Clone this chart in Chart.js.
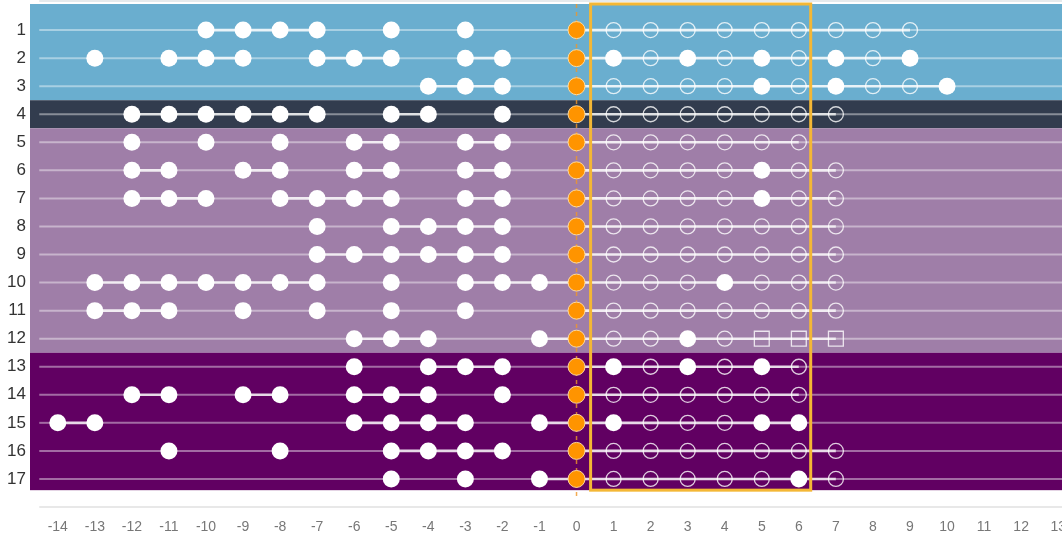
<!DOCTYPE html>
<html>
<head>
<meta charset="utf-8">
<script src="https://cdn.jsdelivr.net/npm/chart.js@4.4.1/dist/chart.umd.min.js"></script>
<style>
  html, body { margin: 0; padding: 0; background: #fff; overflow: hidden; }
  #wrap { width: 1086px; height: 540px; }
</style>
</head>
<body>
<div id="wrap"><canvas id="grafico"></canvas></div>
<script>
// rows (y axis) and x ticks
const rows = [1, 2, 3, 4, 5, 6, 7, 8, 9, 10, 11, 12, 13, 14, 15, 16, 17];
const xTicks = [-14, -13, -12, -11, -10, -9, -8, -7, -6, -5, -4, -3, -2, -1, 0, 1, 2, 3, 4, 5, 6, 7, 8, 9, 10, 11, 12, 13];

// filled white dots per row
const filledX = [
    [-10, -9, -8, -7, -5, -3],
    [-13, -11, -10, -9, -7, -6, -5, -3, -2, 1, 3, 5, 7, 9],
    [-4, -3, -2, 5, 7, 10],
    [-12, -11, -10, -9, -8, -7, -5, -4, -2],
    [-12, -10, -8, -6, -5, -3, -2],
    [-12, -11, -9, -8, -6, -5, -3, -2, 5],
    [-12, -11, -10, -8, -7, -6, -5, -3, -2, 5],
    [-7, -5, -4, -3, -2],
    [-7, -6, -5, -4, -3, -2],
    [-13, -12, -11, -10, -9, -8, -7, -5, -3, -2, -1, 4],
    [-13, -12, -11, -9, -7, -5, -3],
    [-6, -5, -4, -1, 3],
    [-6, -4, -3, -2, 1, 3, 5],
    [-12, -11, -9, -8, -6, -5, -4, -2],
    [-14, -13, -6, -5, -4, -3, -1, 1, 5, 6],
    [-11, -8, -5, -4, -3, -2],
    [-5, -3, -1, 6]
];

// open circles per row
const openX = [
    [1, 2, 3, 4, 5, 6, 7, 8, 9],
    [2, 4, 6, 8],
    [1, 2, 3, 4, 6, 8, 9],
    [1, 2, 3, 4, 5, 6, 7],
    [1, 2, 3, 4, 5, 6],
    [1, 2, 3, 4, 6, 7],
    [1, 2, 3, 4, 6, 7],
    [1, 2, 3, 4, 5, 6, 7],
    [1, 2, 3, 4, 5, 6, 7],
    [1, 2, 3, 5, 6, 7],
    [1, 2, 3, 4, 5, 6, 7],
    [1, 2, 4],
    [2, 4, 6],
    [1, 2, 3, 4, 5, 6],
    [2, 3, 4],
    [1, 2, 3, 4, 5, 6, 7],
    [1, 2, 3, 4, 5, 7]
];

// open squares per row
const squareX = [[], [], [], [], [], [], [], [], [], [], [], [5, 6, 7], [], [], [], [], []];

// orange marker at 0 in every row
const zeroX = [0];

// row groups (coloured bands)
const groups = [
    { from: 1, to: 3 },
    { from: 4, to: 4 },
    { from: 5, to: 12 },
    { from: 13, to: 17 }
];
const boxRange = [0.38, 6.32];

const groupColors = ['#6aaecf', '#323c4e', '#9f7ea8', '#610062'];
const yMin = 0.07, yMax = 18, bandEnd = 17.4;
const xMin = -14.75, xMax = 13.75, lineStart = -14.5;

const pts = (lists) => {
    const out = [];
    lists.forEach((xs, i) => xs.forEach(x => out.push({ x: x, y: rows[i] })));
    return out;
};

const linked = c => c.p1.parsed.x - c.p0.parsed.x === 1;

const rowLines = rows.map((r, i) => {
    const xs = [lineStart, ...filledX[i], ...zeroX, ...openX[i], ...squareX[i], xMax].sort((a, b) => a - b);
    return {
        type: 'line',
        data: xs.map(x => ({ x: x, y: r })),
        pointRadius: 0,
        borderColor: 'rgba(255,255,255,0.42)',
        borderWidth: 2,
        order: 5,
        segment: {
            borderColor: c => (linked(c) ? 'rgba(255,255,255,0.85)' : 'rgba(255,255,255,0.42)'),
            borderWidth: c => (linked(c) ? 2.6 : 2)
        }
    };
});

const bandsPlugin = {
    id: 'bands',
    beforeDraw(chart) {
        const { ctx, chartArea, scales } = chart;
        const y = scales.y;
        groups.forEach((g, i) => {
            const top = y.getPixelForValue(i === 0 ? yMin : g.from - 0.5);
            const bot = y.getPixelForValue(i === groups.length - 1 ? bandEnd : g.to + 0.5);
            ctx.fillStyle = groupColors[i];
            ctx.fillRect(chartArea.left, top, chartArea.right - chartArea.left, bot - top);
        });
    },
    afterDatasetsDraw(chart) {
        const { ctx, chartArea, scales } = chart;
        const x = scales.x, y = scales.y;
        const x0 = x.getPixelForValue(lineStart);
        ctx.save();
        ctx.fillStyle = '#e6eaec';
        ctx.fillRect(x0, chartArea.top - 4, chartArea.right - x0, 2);
        ctx.fillStyle = '#e8e8e8';
        ctx.fillRect(x0, chartArea.bottom - 1, chartArea.right - x0, 2);
        ctx.strokeStyle = '#f4b735';
        ctx.lineWidth = 3;
        const l = x.getPixelForValue(boxRange[0]), r = x.getPixelForValue(boxRange[1]);
        const t = y.getPixelForValue(yMin), b = y.getPixelForValue(bandEnd);
        ctx.strokeRect(l, t, r - l, b - t);
        ctx.restore();
    }
};

const ctx = document.getElementById('grafico').getContext('2d');
new Chart(ctx, {
    type: 'scatter',
    data: {
        datasets: [
            {
                data: pts(filledX),
                pointRadius: 8.5,
                backgroundColor: '#ffffff',
                borderWidth: 0,
                order: 1
            },
            {
                data: pts(openX),
                pointRadius: 7.5,
                backgroundColor: 'rgba(0,0,0,0)',
                borderColor: 'rgba(255,255,255,0.8)',
                borderWidth: 1.3,
                order: 1
            },
            {
                data: pts(squareX),
                pointStyle: 'rect',
                pointRadius: 10.5,
                backgroundColor: 'rgba(0,0,0,0)',
                borderColor: 'rgba(255,255,255,0.8)',
                borderWidth: 1.3,
                order: 1
            },
            {
                data: pts(rows.map(() => zeroX)),
                pointRadius: 8.5,
                backgroundColor: '#ff9400',
                borderColor: 'rgba(255,225,170,0.9)',
                borderWidth: 1,
                order: 1
            },
            {
                type: 'line',
                data: [{ x: 0, y: yMin }, { x: 0, y: 17.65 }],
                pointRadius: 0,
                borderColor: 'rgba(240,150,40,0.8)',
                borderWidth: 1.5,
                borderDash: [4, 4],
                order: 4
            },
            ...rowLines
        ]
    },
    options: {
        responsive: true,
        maintainAspectRatio: false,
        animation: false,
        events: [],
        layout: { autoPadding: false, padding: { top: 4, left: 0, right: 0, bottom: 0 } },
        plugins: {
            legend: { display: false },
            tooltip: { enabled: false }
        },
        scales: {
            x: {
                type: 'linear',
                min: xMin,
                max: xMax,
                afterBuildTicks: s => { s.ticks = xTicks.map(v => ({ value: v })); },
                afterFit: s => { s.height = 33; s.paddingLeft = 0; s.paddingRight = 0; },
                grid: { display: false, drawTicks: false },
                border: { display: false },
                ticks: {
                    padding: 12,
                    color: '#777',
                    font: { family: 'Liberation Sans, Arial, sans-serif', size: 14 },
                    maxRotation: 0,
                    autoSkip: false
                }
            },
            y: {
                type: 'linear',
                reverse: true,
                min: yMin,
                max: yMax,
                afterBuildTicks: s => { s.ticks = rows.map(v => ({ value: v })); },
                afterFit: s => { s.width = 30; s.paddingTop = 0; s.paddingBottom = 0; },
                grid: { display: false, drawTicks: false },
                border: { display: false },
                ticks: {
                    padding: 4,
                    color: '#333',
                    font: { family: 'Liberation Sans, Arial, sans-serif', size: 17 },
                    autoSkip: false
                }
            }
        }
    },
    plugins: [bandsPlugin]
});
</script>
</body>
</html>
